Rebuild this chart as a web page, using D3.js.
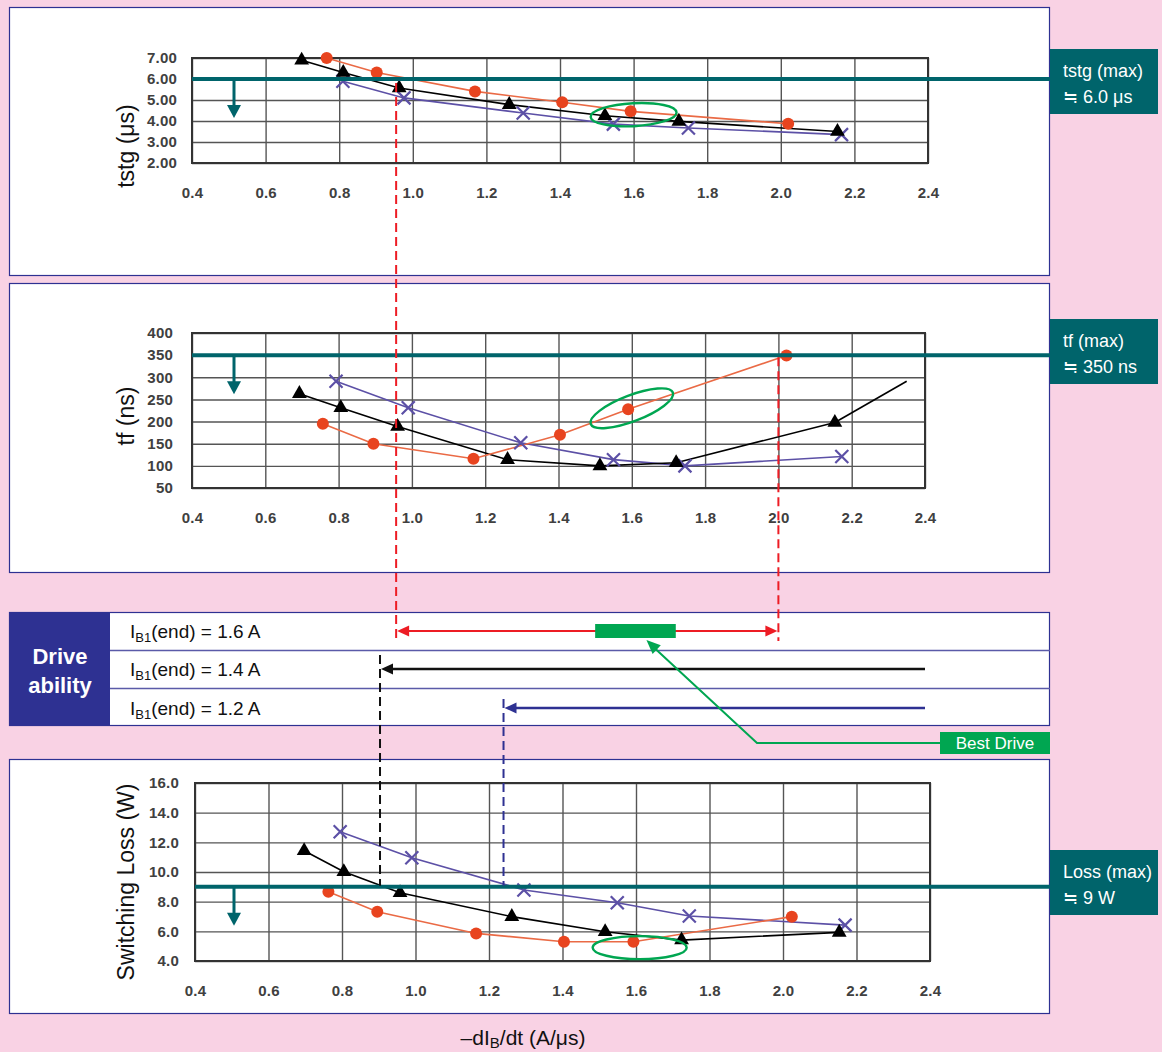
<!DOCTYPE html>
<html><head><meta charset="utf-8">
<script src="https://cdn.jsdelivr.net/npm/d3@7/dist/d3.min.js"></script>
<style>
html,body{margin:0;padding:0;background:#f9d2e4;}
svg{display:block;font-family:"Liberation Sans",Arial,Helvetica,sans-serif;}
</style></head><body>
<svg id="c" width="1162" height="1052"></svg>
<script>
// ---------- data ----------
const xTicks = [0.4,0.6,0.8,1.0,1.2,1.4,1.6,1.8,2.0,2.2,2.4];
const tstgTicks = [2,3,4,5,6,7];
const tfTicks = [50,100,150,200,250,300,350,400];
const lossTicks = [4,6,8,10,12,14,16];

// IB1(end)=1.6A (red), 1.4A (black), 1.2A (blue)
const tstg16 = [[0.766,7.00],[0.902,6.31],[1.169,5.41],[1.406,4.89],[1.592,4.46],[2.020,3.87]];
const tstg14 = [[0.698,6.89],[0.811,6.31],[0.963,5.57],[1.262,4.78],[1.522,4.25],[1.723,3.98],[2.154,3.50]];
const tstg12 = [[0.810,5.89],[0.976,5.10],[1.300,4.38],[1.545,3.85],[1.749,3.67],[2.165,3.35]];

const tf16 = [[0.757,195],[0.895,150],[1.168,116],[1.404,170],[1.590,228],[2.022,349]];
const tf14 = [[0.693,263],[0.806,231],[0.961,189],[1.261,114],[1.513,100],[1.721,107],[2.154,198]];
const tf14Tail = [[2.154,198],[2.350,291]];
const tf12 = [[0.793,291],[0.990,231],[1.297,152],[1.550,114],[1.745,100],[2.173,121]];

const loss16 = [[0.763,8.67],[0.896,7.32],[1.165,5.86],[1.404,5.30],[1.593,5.30],[2.024,6.99]];
const loss14 = [[0.697,11.43],[0.805,10.02],[0.958,8.60],[1.262,6.99],[1.516,5.97],[1.724,5.41],[2.153,5.93]];
const loss12 = [[0.795,12.72],[0.990,10.96],[1.295,8.79],[1.549,7.93],[1.745,7.03],[2.169,6.42]];

const limits = [6.0, 350, 9];
const limitLabels = [["tstg (max)","≒ 6.0 μs"],["tf (max)","≒ 350 ns"],["Loss (max)","≒ 9 W"]];
const bestMarks = [[1.60,4.30],[1.60,230],[1.61,4.90]];

const driveCurrents = ["1.6","1.4","1.2"];
const driveFrom = [0.957,0.913,1.25];
const driveTo = [2.0,2.4,2.4];
const bestRange = [1.50,1.72];

// ---------- style ----------
const TEAL="#00646b", BLUE="#2e3192", RED="#ed1c24", GREEN="#00a651";
const C_RED="#e8441f", C_REDLINE="#ea6a45", C_BLK="#000", C_BLU="#5c50a6";

const svg = d3.select("#c");

// panels
[[9.5,7.5,1040,268],[9.5,283.5,1040,289],[9.5,759.5,1040,254]].forEach(p=>{
  svg.append("rect").attr("x",p[0]).attr("y",p[1]).attr("width",p[2]).attr("height",p[3])
    .attr("fill","#fff").attr("stroke",BLUE).attr("stroke-width",1.2);
});

const charts = [
  {title:"tstg (μs)", x0:192, x1:928, yTop:58, yBot:163, dom:[2,7], ticks:tstgTicks, fmt:d3.format(".2f"),
   s16:tstg16, s14:tstg14, s12:tstg12, box:49, ell:[43,11.5,-3], titleY:146, ypad:15},
  {title:"tf (ns)", x0:192, x1:925, yTop:333, yBot:488, dom:[50,400], ticks:tfTicks, fmt:d3.format("d"),
   s16:tf16, s14:tf14, s12:tf12, tail:tf14Tail, box:319, ell:[44,13,-21], titleY:416, ypad:19},
  {title:"Switching Loss (W)", x0:195, x1:930, yTop:783, yBot:961, dom:[4,16], ticks:lossTicks, fmt:d3.format(".1f"),
   s16:loss16, s14:loss14, s12:loss12, box:850, ell:[47,11.5,0], titleY:882, ypad:16}
];

const scales = [];
charts.forEach((c,i)=>{
  const x = d3.scaleLinear().domain([0.4,2.4]).range([c.x0,c.x1]);
  const y = d3.scaleLinear().domain(c.dom).range([c.yBot,c.yTop]);
  scales.push({x,y});
  const g = svg.append("g");
  const h = c.yBot-c.yTop, w = c.x1-c.x0;
  // grid
  const gx = g.append("g").attr("transform",`translate(0,${c.yBot})`)
    .call(d3.axisBottom(x).tickValues(xTicks).tickSize(-h).tickFormat(""));
  const gy = g.append("g").attr("transform",`translate(${c.x0},0)`)
    .call(d3.axisLeft(y).tickValues(c.ticks).tickSize(-w).tickFormat(""));
  [gx,gy].forEach(a=>{a.select(".domain").remove(); a.selectAll("line").attr("stroke","#555").attr("stroke-width",1.4);});
  // border
  g.append("rect").attr("x",c.x0).attr("y",c.yTop).attr("width",w).attr("height",h)
    .attr("fill","none").attr("stroke","#333").attr("stroke-width",2);
  // tick labels
  const lx = g.append("g").attr("transform",`translate(0,${c.yBot})`)
    .call(d3.axisBottom(x).tickValues(xTicks).tickSize(0).tickPadding(24).tickFormat(d3.format(".1f")));
  const ly = g.append("g").attr("transform",`translate(${c.x0},0)`)
    .call(d3.axisLeft(y).tickValues(c.ticks).tickSize(0).tickPadding(c.ypad).tickFormat(c.fmt));
  [lx,ly].forEach(a=>{a.select(".domain").remove();
    a.selectAll("text").attr("font-family","'Liberation Sans',Arial,sans-serif").attr("font-size",15)
     .attr("font-weight","bold").attr("fill","#404040").attr("letter-spacing",0.2);});
  // axis title
  svg.append("text").attr("transform",`translate(134,${c.titleY}) rotate(-90)`)
    .attr("text-anchor","middle").attr("font-size",23).attr("fill","#111").text(c.title);

  // series
  const line = d3.line().x(d=>x(d[0])).y(d=>y(d[1]));
  g.append("path").datum(c.s12).attr("d",line).attr("fill","none").attr("stroke",C_BLU).attr("stroke-width",1.6);
  g.append("path").datum(c.s14).attr("d",line).attr("fill","none").attr("stroke",C_BLK).attr("stroke-width",1.6);
  if(c.tail) g.append("path").datum(c.tail).attr("d",line)
      .attr("fill","none").attr("stroke",C_BLK).attr("stroke-width",1.6);
  g.append("path").datum(c.s16).attr("d",line).attr("fill","none").attr("stroke",C_REDLINE).attr("stroke-width",1.6);
  // markers
  g.selectAll(null).data(c.s12).enter().append("path")
    .attr("d",d=>{const px=x(d[0]),py=y(d[1]),r=6.5;
      return `M${px-r},${py-r}L${px+r},${py+r}M${px-r},${py+r}L${px+r},${py-r}`;})
    .attr("stroke",C_BLU).attr("stroke-width",2.2).attr("fill","none");
  g.selectAll(null).data(c.s14).enter().append("path")
    .attr("transform",d=>`translate(${x(d[0])},${y(d[1])})`)
    .attr("d",d3.symbol(d3.symbolTriangle,95)).attr("fill","#000");
  g.selectAll(null).data(c.s16).enter().append("circle")
    .attr("cx",d=>x(d[0])).attr("cy",d=>y(d[1])).attr("r",6).attr("fill",C_RED);

  // best ellipse
  const b = bestMarks[i];
  g.append("ellipse").attr("cx",0).attr("cy",0).attr("rx",c.ell[0]).attr("ry",c.ell[1])
    .attr("transform",`translate(${x(b[0])},${y(b[1])}) rotate(${c.ell[2]})`)
    .attr("fill","none").attr("stroke",GREEN).attr("stroke-width",2.4);

  // limit line
  const ly0 = y(limits[i]);
  svg.append("line").attr("x1",c.x0).attr("x2",1052).attr("y1",ly0).attr("y2",ly0)
    .attr("stroke",TEAL).attr("stroke-width",4);
  const ax = 234;
  svg.append("line").attr("x1",ax).attr("x2",ax).attr("y1",ly0).attr("y2",ly0+28)
    .attr("stroke",TEAL).attr("stroke-width",3);
  svg.append("path").attr("d",`M${ax-7},${ly0+26}L${ax+7},${ly0+26}L${ax},${ly0+39}Z`).attr("fill",TEAL);
  // label box
  svg.append("rect").attr("x",1050).attr("y",c.box).attr("width",108).attr("height",65).attr("fill",TEAL);
  svg.append("text").attr("x",1063).attr("y",c.box+28).attr("font-size",18).attr("fill","#fff").text(limitLabels[i][0]);
  svg.append("text").attr("x",1063).attr("y",c.box+54).attr("font-size",18).attr("fill","#fff").text(limitLabels[i][1]);
});

// ---------- drive ability panel ----------
const dx = scales[1].x;
svg.append("rect").attr("x",9.5).attr("y",612.5).attr("width",1040).attr("height",113)
  .attr("fill","#fff").attr("stroke",BLUE).attr("stroke-width",1.2);
svg.append("rect").attr("x",9).attr("y",612).attr("width",101).attr("height",114).attr("fill",BLUE);
[650.5,688.5].forEach(yy=>svg.append("line").attr("x1",110).attr("x2",1050).attr("y1",yy).attr("y2",yy)
  .attr("stroke","#5a5aa8").attr("stroke-width",1.3));
svg.append("text").attr("x",60).attr("y",664).attr("text-anchor","middle").attr("font-size",22)
  .attr("font-weight","bold").attr("fill","#fff").text("Drive");
svg.append("text").attr("x",60).attr("y",693).attr("text-anchor","middle").attr("font-size",22)
  .attr("font-weight","bold").attr("fill","#fff").text("ability");
const rowY = [631,669,708];
driveCurrents.forEach((v,i)=>{
  const t = svg.append("text").attr("x",130).attr("y",rowY[i]+7).attr("font-size",19).attr("fill","#111");
  t.append("tspan").text("I");
  t.append("tspan").attr("font-size",13).attr("dy",4).text("B1");
  t.append("tspan").attr("dy",-4).text(`(end) = ${v} A`);
});

// dashed guides
const guides = [
  {x:dx(driveFrom[0]), y1:scales[0].y(limits[0])+4, y2:641, c:RED},
  {x:dx(driveTo[0]), y1:scales[1].y(limits[1])+2, y2:641, c:RED},
  {x:dx(driveFrom[1]), y1:655, y2:scales[2].y(limits[2])-1, c:"#111"},
  {x:dx(driveFrom[2]), y1:699, y2:scales[2].y(limits[2])-1, c:BLUE}
];
guides.forEach(gd=>svg.append("line").attr("x1",gd.x).attr("x2",gd.x).attr("y1",gd.y1).attr("y2",gd.y2)
  .attr("stroke",gd.c).attr("stroke-width",2).attr("stroke-dasharray","9,5"));

// arrows
function head(xTip,y,dir,col,len=12,hw=5.5){
  svg.append("path").attr("d",`M${xTip},${y}L${xTip-dir*len},${y-hw}L${xTip-dir*len},${y+hw}Z`).attr("fill",col);
}
const arrowCols = [RED,"#111",BLUE];
driveCurrents.forEach((v,i)=>{
  const a = dx(driveFrom[i])+1, b = dx(driveTo[i])-(i===0?1:0);
  svg.append("line").attr("x1",a+6).attr("x2",i===0?b-6:b).attr("y1",rowY[i]).attr("y2",rowY[i])
    .attr("stroke",arrowCols[i]).attr("stroke-width",i===0?2:2.6);
  head(a,rowY[i],-1,arrowCols[i]);
  if(i===0) head(b,rowY[i],1,arrowCols[i]);
});
// best drive bar
svg.append("rect").attr("x",dx(bestRange[0])).attr("y",624).attr("width",dx(bestRange[1])-dx(bestRange[0]))
  .attr("height",14).attr("fill",GREEN);
// leader
const tipX = dx(1.64), tipY = 640;
svg.append("path").attr("d",`M941,743L757,743L${tipX+8},${tipY+8}`).attr("fill","none")
  .attr("stroke",GREEN).attr("stroke-width",2);
(function(){ // arrow head along leader
  const ang = Math.atan2(743-tipY, 757-tipX);
  const L=14, W=6;
  const bx = tipX+Math.cos(ang)*L, by = tipY+Math.sin(ang)*L;
  const px = -Math.sin(ang)*W, py = Math.cos(ang)*W;
  svg.append("path").attr("d",`M${tipX},${tipY}L${bx+px},${by+py}L${bx-px},${by-py}Z`).attr("fill",GREEN);
})();
svg.append("rect").attr("x",940).attr("y",732).attr("width",110).attr("height",22).attr("fill",GREEN);
svg.append("text").attr("x",995).attr("y",749).attr("text-anchor","middle").attr("font-size",17)
  .attr("fill","#fff").text("Best Drive");

// x-axis title
const xt = svg.append("text").attr("x",523).attr("y",1045).attr("text-anchor","middle").attr("font-size",21).attr("fill","#111");
xt.append("tspan").text("–dI");
xt.append("tspan").attr("font-size",15).attr("dy",3).text("B");
xt.append("tspan").attr("dy",-3).text("/dt (A/μs)");
</script>
</body></html>
